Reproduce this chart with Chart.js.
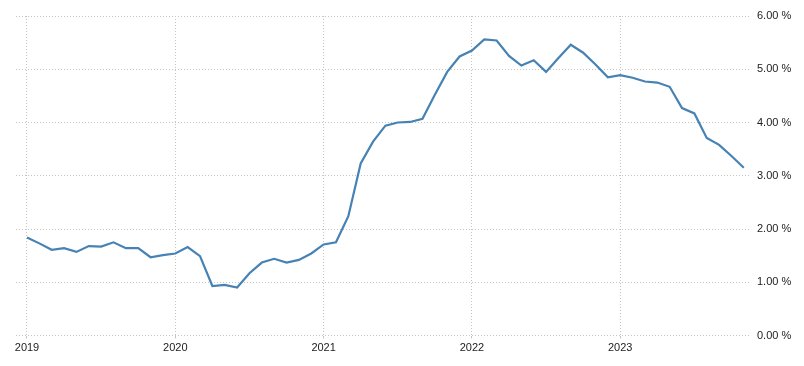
<!DOCTYPE html>
<html>
<head>
<meta charset="utf-8">
<script src="https://cdn.jsdelivr.net/npm/chart.js@4/dist/chart.umd.min.js"></script>
<style>
html,body{margin:0;padding:0;background:#fff;}
#wrap{width:804px;height:366px;position:relative;}
</style>
</head>
<body>
<div id="wrap"><canvas id="c" width="804" height="366"></canvas></div>
<script>
// Monthly categories Jan 2019 .. Nov 2023
const categories = [
 '2019-01','2019-02','2019-03','2019-04','2019-05','2019-06','2019-07','2019-08','2019-09','2019-10','2019-11','2019-12',
 '2020-01','2020-02','2020-03','2020-04','2020-05','2020-06','2020-07','2020-08','2020-09','2020-10','2020-11','2020-12',
 '2021-01','2021-02','2021-03','2021-04','2021-05','2021-06','2021-07','2021-08','2021-09','2021-10','2021-11','2021-12',
 '2022-01','2022-02','2022-03','2022-04','2022-05','2022-06','2022-07','2022-08','2022-09','2022-10','2022-11','2022-12',
 '2023-01','2023-02','2023-03','2023-04','2023-05','2023-06','2023-07','2023-08','2023-09','2023-10','2023-11'
];
const values = [
 1.84,1.73,1.61,1.64,1.57,1.68,1.67,1.75,1.64,1.64,1.47,1.51,
 1.54,1.66,1.49,0.93,0.95,0.90,1.17,1.37,1.44,1.37,1.42,1.54,
 1.71,1.75,2.24,3.23,3.64,3.94,4.00,4.01,4.07,4.52,4.95,5.24,
 5.35,5.56,5.54,5.25,5.07,5.17,4.95,5.21,5.46,5.31,5.09,4.85,
 4.89,4.84,4.77,4.75,4.67,4.27,4.17,3.71,3.58,3.37,3.15
];
const yearTickLabels = ['2019','2020','2021','2022','2023'];
const yTickValues = [0,1,2,3,4,5,6];

const yearTickIdx = yearTickLabels.map(y => categories.indexOf(y + '-01'));
const points = values.map((v, i) => ({x: i, y: v}));
const gridColor = '#c4c4c4';
const fontSpec = {family: '"Liberation Sans", Arial, sans-serif', size: 11};

new Chart(document.getElementById('c'), {
  type: 'line',
  data: {
    datasets: [{
      data: points,
      borderColor: '#4682b4',
      borderWidth: 2.2,
      pointRadius: 0,
      tension: 0,
      fill: false
    }]
  },
  options: {
    responsive: false,
    animation: false,
    plugins: {legend: {display: false}, tooltip: {enabled: false}},
    layout: {padding: {left: 16, top: 16, right: 0, bottom: 0}},
    scales: {
      x: {
        type: 'linear',
        min: -0.89,
        max: 58.5,
        afterBuildTicks: s => { s.ticks = yearTickIdx.map(v => ({value: v})); },
        afterFit: s => { s.height = 30.5; },
        border: {display: false, dash: [1,2]},
        grid: {color: gridColor, lineWidth: 1, tickLength: 3, drawTicks: true},
        ticks: {
          autoSkip: false, maxRotation: 0, padding: 3,
          color: '#222', font: fontSpec,
          callback: v => { const k = yearTickIdx.indexOf(v); return k >= 0 ? yearTickLabels[k] : ''; }
        }
      },
      y: {
        position: 'right',
        min: 0, max: 6,
        afterBuildTicks: s => { s.ticks = yTickValues.map(v => ({value: v})); },
        afterFit: s => { s.width = 54; },
        border: {display: false, dash: [1,2]},
        grid: {color: gridColor, lineWidth: 1, drawTicks: false},
        ticks: {
          padding: 7, color: '#222', font: fontSpec,
          callback: v => v.toFixed(2) + ' %'
        }
      }
    }
  }
});
</script>
</body>
</html>
